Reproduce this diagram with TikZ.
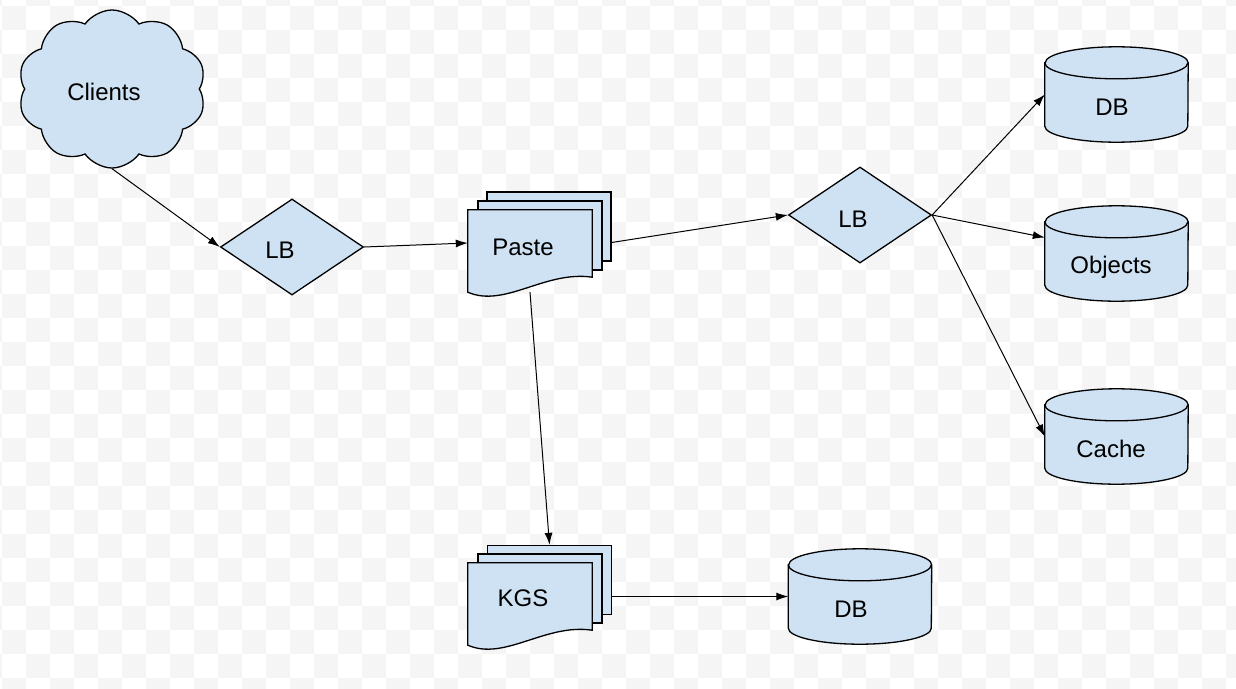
\documentclass[tikz,border=0pt]{standalone}
\usepackage{fontspec}
\setmainfont{Liberation Sans}
\usepackage{tikz}
\usetikzlibrary{shapes.geometric}
\usetikzlibrary{shapes.symbols}
\usetikzlibrary{arrows.meta}
\usepackage{xcolor}
\definecolor{paleblue}{HTML}{CFE2F3}
\definecolor{checker}{HTML}{F5F5F5}

\tikzset{
  shapeline/.style = {draw = black, line width = 1.3pt, fill = paleblue},
  lbbox/.style = {diamond, shapeline, minimum width = 143, minimum height = 96, inner sep = 0},
  page/.style = {rectangle, shapeline, minimum width = 124, minimum height = 69, inner sep = 0},
  frontpage/.style = {rectangle, minimum width = 124, minimum height = 82, inner sep = 0},
  drumbox/.style = {rectangle, minimum width = 143, minimum height = 95, inner sep = 0},
  link/.style = {-{Latex[length = 12pt, width = 8pt]}, line width = 1pt},
}
% outline of a database drum round a drumbox node
\newcommand{\drum}[1]{%
  \draw[shapeline] ([yshift = -16pt]#1.north west) -- ([yshift = 16pt]#1.south west)
    arc[start angle = 180, end angle = 360, x radius = 71.5pt, y radius = 16pt]
    -- ([yshift = -16pt]#1.north east)
    arc[start angle = 0, end angle = 180, x radius = 71.5pt, y radius = 16pt] -- cycle;
  \draw[shapeline, fill = none] ([yshift = -16pt]#1.north west)
    arc[start angle = 180, end angle = 360, x radius = 71.5pt, y radius = 16pt];
}

\begin{document}
\begin{tikzpicture}[x = 1pt, y = -1pt, font = \fontsize{24}{28}\selectfont]
  \useasboundingbox (0, 0) rectangle (1236, 688);
  % background grid
  \begin{scope}
  \clip (0, 0) rectangle (1236, 688);
  \fill[white] (0, 0) rectangle (1236, 688);
  \foreach \c in {-1, ..., 51}
  {
    \foreach \r in {-1, ..., 28}
    {
      \pgfmathtruncatemacro\s{mod(\c + \r + 2, 2)}
      \ifnum\s = 0 \fill[checker] ({2 + 24*\c}, {6 + 24*\r}) rectangle +(24, 24); \fi
    }
  }
  \end{scope}

  \node[cloud, shapeline, cloud puffs = 10, cloud puff arc = 110, aspect = 1.2,
        minimum width = 188, minimum height = 158, inner sep = 0] at (112, 89) (clients) {};
  \node at (104, 92) (clientstext) {Clients};

  \node[lbbox] at (292, 247) (lb1) {};
  \node at (280, 250) (lb1text) {LB};
  \node[lbbox] at (860, 215) (lb2) {};
  \node at (853, 219) (lb2text) {LB};

  \node[page] at (549, 226.5) (paste3) {};
  \node[page] at (540, 235.5) (paste2) {};
  \node[frontpage] at (530, 251) (paste) {};
  \draw[shapeline] (paste.north west) -- (paste.north east) -- ([yshift = 15pt]paste.south east)
    .. controls +(-47, -7) and ([xshift = 37pt, yshift = -16pt]paste.south west) .. (paste.south west) -- cycle;
  \node at (523, 247) (pastetext) {Paste};

  \node[page] at (549.5, 580) (kgs3) {};
  \node[page] at (540, 588.5) (kgs2) {};
  \node[frontpage] at (530, 604) (kgs) {};
  \draw[shapeline] (kgs.north west) -- (kgs.north east) -- ([yshift = 15pt]kgs.south east)
    .. controls +(-47, -7) and ([xshift = 37pt, yshift = -16pt]kgs.south west) .. (kgs.south west) -- cycle;
  \node at (523, 598) (kgstext) {KGS};

  \node[drumbox] at (1116.5, 94.5) (db1) {};
  \drum{db1}
  \node at (1112, 107) (db1text) {DB};
  \node[drumbox] at (1116.5, 253.5) (objects) {};
  \drum{objects}
  \node at (1111, 267) (objectstext) {Objects};
  \node[drumbox] at (1116.5, 436.5) (cache) {};
  \drum{cache}
  \node at (1111, 449) (cachetext) {Cache};
  \node[drumbox] at (860, 596.5) (db2) {};
  \drum{db2}
  \node at (851, 609) (db2text) {DB};

  \draw[link] (clients.south) -- (lb1.west);
  \draw[link] (lb1.east) -- ([yshift = 8pt]paste.west);
  \draw[link] ([yshift = -16pt]paste3.east) -- (lb2.west);
  \draw[link] (lb2.east) -- (db1.west);
  \draw[link] (lb2.east) -- ([yshift = 16pt]objects.west);
  \draw[link] (lb2.east) -- (cache.west);
  \draw[link] (paste.south) -- (kgs3.north);
  \draw[link] (kgs3.east |- db2.west) -- (db2.west);
\end{tikzpicture}
\end{document}
